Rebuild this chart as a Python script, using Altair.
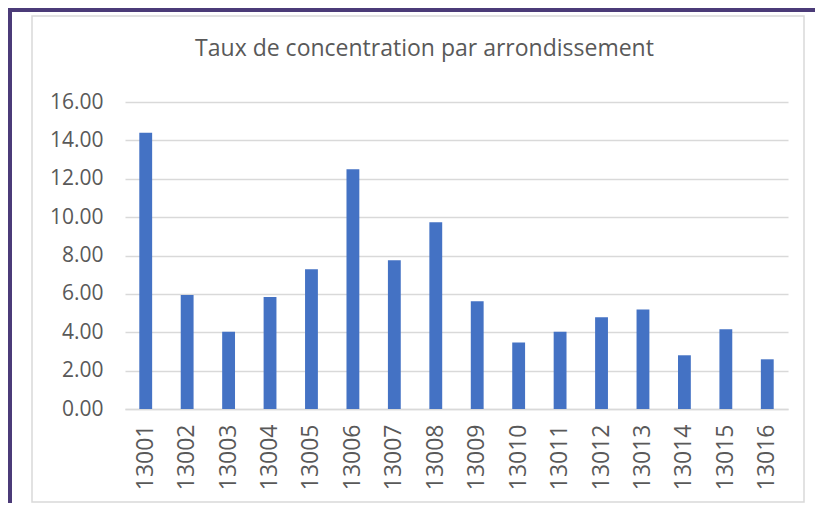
import altair as alt
import pandas as pd

arrondissements = ["13001", "13002", "13003", "13004", "13005", "13006", "13007", "13008",
                   "13009", "13010", "13011", "13012", "13013", "13014", "13015", "13016"]
taux = [14.40, 5.94, 4.03, 5.84, 7.28, 12.49, 7.75, 9.73,
        5.61, 3.46, 4.03, 4.78, 5.19, 2.80, 4.15, 2.59]
y_ticks = [0, 2, 4, 6, 8, 10, 12, 14, 16]
title_text = "Taux de concentration par arrondissement"

df = pd.DataFrame({"arr": arrondissements, "taux": taux})

W, H = 663, 307
PAD_L, PAD_T, PAD_R, PAD_B = 117, 94, 27, 94

FONT = "Open Sans"
TXT = "#595959"
GRID = "#D9D9D9"

bars = alt.Chart(df).mark_bar(color="#4472C4").encode(
    x=alt.X("arr:N", sort=arrondissements,
            scale=alt.Scale(paddingInner=0.69, paddingOuter=0.345),
            axis=alt.Axis(title=None, labelAngle=-90, labelAlign="right", labelBaseline="middle",
                          labelPadding=15, ticks=False, domain=True, domainColor=GRID,
                          domainWidth=1.5, labelFont=FONT, labelFontSize=23, labelColor=TXT)),
    y=alt.Y("taux:Q", scale=alt.Scale(domain=[0, 16], nice=False),
            axis=alt.Axis(title=None, values=y_ticks, format=".2f", ticks=False, domain=False,
                          gridColor=GRID, gridWidth=1.5, labelPadding=22, labelFont=FONT,
                          labelFontSize=21, labelColor=TXT)),
)

# decorative frame: gray inner border and purple edge
frame_df = pd.DataFrame({"k": [0]})
inner = alt.Chart(frame_df).mark_rect(fill=None, stroke=GRID, strokeWidth=1.5).encode(
    x=alt.value(-93), x2=alt.value(679), y=alt.value(-86), y2=alt.value(400)
)
purple_left = alt.Chart(frame_df).mark_rect(color="#4B3B78").encode(
    x=alt.value(-117), x2=alt.value(-113), y=alt.value(-94), y2=alt.value(H + PAD_B)
)
purple_top = alt.Chart(frame_df).mark_rect(color="#4B3B78").encode(
    x=alt.value(-117), x2=alt.value(W + PAD_R), y=alt.value(-94), y2=alt.value(-90)
)
title = alt.Chart(frame_df).mark_text(
    text=title_text, font=FONT, fontSize=23, color=TXT, align="center", baseline="alphabetic"
).encode(x=alt.value(299.5), y=alt.value(-46))

chart = alt.layer(inner, purple_left, purple_top, bars, title).properties(
    width=W, height=H,
    padding={"left": PAD_L, "top": PAD_T, "right": PAD_R, "bottom": PAD_B},
    autosize=alt.AutoSizeParams(type="none"),
).configure(background="white").configure_view(stroke=None)

chart.save("out.html", embed_options={"renderer": "svg", "actions": False})
